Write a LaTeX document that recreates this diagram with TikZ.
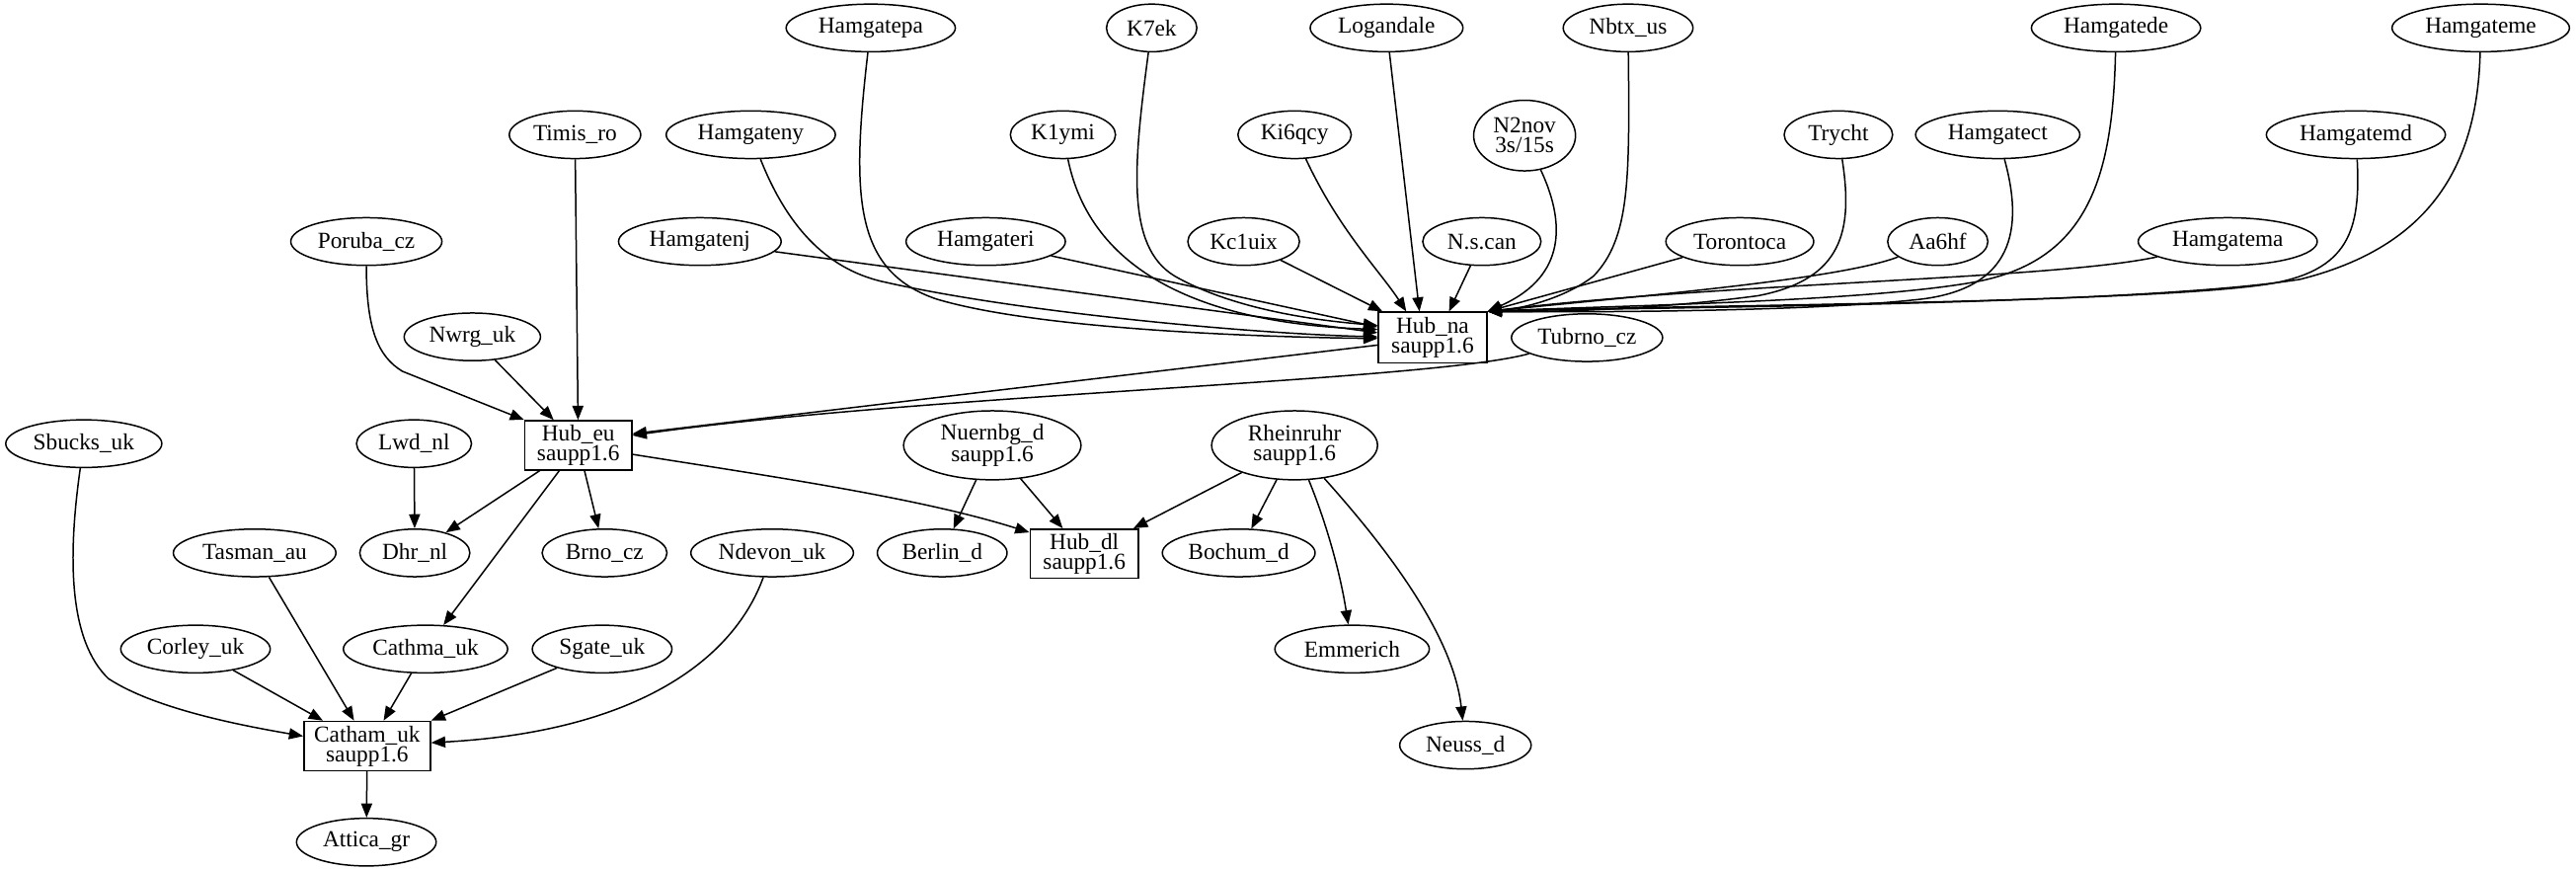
\documentclass[tikz,border=0pt]{standalone}
\usepackage{fontspec}
\setmainfont{Liberation Serif}
\usetikzlibrary{shapes.geometric,arrows.meta}
\begin{document}
\begin{tikzpicture}[x=1pt,y=-1pt,
  every node/.style={font=\fontsize{14pt}{12pt}\selectfont, line width=0.9pt, inner sep=0pt, align=center},
  el/.style={draw, ellipse, minimum height=29pt},
  el2/.style={draw, ellipse, minimum height=42pt},
  bx/.style={draw, rectangle, minimum height=30pt},
  e/.style={draw, line width=0.9pt, -{Triangle[length=8.6pt,width=6.7pt]}}]
\useasboundingbox (0,0) rectangle (1568,530);
% row 1
\node[el,minimum width=103pt] (hamgatepa) at (530,17) {Hamgatepa};
\node[el,minimum width=55pt] (k7ek) at (701,17) {K7ek};
\node[el,minimum width=93pt] (logandale) at (844,17) {Logandale};
\node[el,minimum width=79pt] (nbtxus) at (991,17) {Nbtx\_us};
\node[el,minimum width=103pt] (hamgatede) at (1288,17) {Hamgatede};
\node[el,minimum width=108pt] (hamgateme) at (1510,17) {Hamgateme};
% row 2
\node[el,minimum width=80pt] (timisro) at (350,82) {Timis\_ro};
\node[el,minimum width=103pt] (hamgateny) at (457,82) {Hamgateny};
\node[el,minimum width=64pt] (k1ymi) at (647,82) {K1ymi};
\node[el,minimum width=69pt] (ki6qcy) at (788,82) {Ki6qcy};
\node[el2,minimum width=62pt,minimum height=43pt] (n2nov) at (928,82.5) {N2nov\\3s/15s};
\node[el,minimum width=66pt] (trycht) at (1119,82) {Trycht};
\node[el,minimum width=100pt] (hamgatect) at (1216,82) {Hamgatect};
\node[el,minimum width=109pt] (hamgatemd) at (1434,82) {Hamgatemd};
% row 3
\node[el,minimum width=92pt] (porubacz) at (223,147) {Poruba\_cz};
\node[el,minimum width=99pt] (hamgatenj) at (426,147) {Hamgatenj};
\node[el,minimum width=97pt] (hamgateri) at (600,147) {Hamgateri};
\node[el,minimum width=68pt] (kc1uix) at (757,147) {Kc1uix};
\node[el,minimum width=72pt] (nscan) at (902,147) {N.s.can};
\node[el,minimum width=90pt] (torontoca) at (1059,147) {Torontoca};
\node[el,minimum width=61pt] (aa6hf) at (1179.5,147) {Aa6hf};
\node[el,minimum width=109pt] (hamgatema) at (1356,147) {Hamgatema};
% row 4
\node[bx,minimum width=66pt,minimum height=31pt] (hubna) at (872,205.5) {Hub\_na\\saupp1.6};
\node[el,minimum width=92pt] (tubrnocz) at (966,205.5) {Tubrno\_cz};
\node[el,minimum width=83pt] (nwrguk) at (287.5,205) {Nwrg\_uk};
% row 5
\node[bx,minimum width=65pt] (hubeu) at (352,271) {Hub\_eu\\saupp1.6};
\node[el,minimum width=95pt] (sbucksuk) at (51,270) {Sbucks\_uk};
\node[el,minimum width=70pt] (lwdnl) at (252,270) {Lwd\_nl};
\node[el2,minimum width=108pt] (nuernbgd) at (604,271) {Nuernbg\_d\\saupp1.6};
\node[el2,minimum width=101pt] (rheinruhr) at (788,271) {Rheinruhr\\saupp1.6};
% row 6
\node[el,minimum width=99pt] (tasmanau) at (155,336.5) {Tasman\_au};
\node[el,minimum width=67pt] (dhrnl) at (252.5,336.5) {Dhr\_nl};
\node[el,minimum width=76pt] (brnocz) at (368,336.5) {Brno\_cz};
\node[el,minimum width=99pt] (ndevonuk) at (470,336.5) {Ndevon\_uk};
\node[el,minimum width=79pt] (berlind) at (573.5,336.5) {Berlin\_d};
\node[bx,minimum width=66pt] (hubdl) at (660,337) {Hub\_dl\\saupp1.6};
\node[el,minimum width=93pt] (bochumd) at (754,336.5) {Bochum\_d};
% row 7
\node[el,minimum width=91pt] (corleyuk) at (119,395) {Corley\_uk};
\node[el,minimum width=100pt] (cathmauk) at (259,395) {Cathma\_uk};
\node[el,minimum width=85pt] (sgateuk) at (366.5,395) {Sgate\_uk};
\node[el,minimum width=94pt] (emmerich) at (823,395) {Emmerich};
% rows 8-9
\node[bx,minimum width=77pt] (catham) at (223.5,454) {Catham\_uk\\saupp1.6};
\node[el,minimum width=80pt] (neussd) at (892,453.5) {Neuss\_d};
\node[el,minimum width=85pt] (atticagr) at (223,512.5) {Attica\_gr};

% edges into Hub_na, left side
\draw[e] (hamgatepa) .. controls (518,120) and (520,165) .. (570,182) .. controls (630,200) and (760,205) .. ([yshift=-0.5pt]hubna.west);
\draw[e] (hamgateny) .. controls (480,140) and (505,165) .. (540,172) .. controls (620,190) and (760,203) .. ([yshift=0.5pt]hubna.west);
\draw[e] (hamgatenj) -- ([yshift=3pt]hubna.west);
\draw[e] (hamgateri) -- ([yshift=6.5pt]hubna.west);
\draw[e] (k1ymi) .. controls (665,170) and (740,197) .. ([yshift=5pt]hubna.west);
\draw[e] (k7ek) .. controls (690,100) and (685,150) .. (715,168) .. controls (750,188) and (800,195) .. ([yshift=7.5pt]hubna.west);
% top
\draw[e] (kc1uix) -- ([xshift=3pt]hubna.north west);
\draw[e] (ki6qcy) .. controls (815,140) and (840,165) .. ([xshift=-16pt]hubna.north);
\draw[e] (logandale) -- ([xshift=-8pt]hubna.north);
\draw[e] (nscan) -- ([xshift=10pt]hubna.north);
% right side
\draw[e] (n2nov) .. controls (955,140) and (950,170) .. (hubna.north east);
\draw[e] (nbtxus) .. controls (992,110) and (992,145) .. (970,168) .. controls (952,182) and (925,188) .. (hubna.north east);
\draw[e] (torontoca) -- (hubna.north east);
\draw[e] (trycht) .. controls (1128,140) and (1122,170) .. (1070,180) .. controls (1010,188) and (950,190) .. (hubna.north east);
\draw[e] (aa6hf) .. controls (1120,170) and (1000,180) .. (hubna.north east);
\draw[e] (hamgatect) .. controls (1232,140) and (1225,175) .. (1170,182) .. controls (1100,190) and (960,190) .. (hubna.north east);
\draw[e] (hamgatede) .. controls (1286,110) and (1270,160) .. (1200,172) .. controls (1130,184) and (980,186) .. (hubna.north east);
\draw[e] (hamgatema) .. controls (1250,170) and (1050,172) .. (hubna.north east);
\draw[e] (hamgatemd) .. controls (1437,140) and (1430,165) .. (1380,173) .. controls (1300,185) and (1000,186) .. (hubna.north east);
\draw[e] (hamgateme) .. controls (1508,100) and (1480,150) .. (1400,170) .. controls (1300,186) and (1000,187) .. (hubna.north east);

% into Hub_eu
\draw[e] ([yshift=-4.5pt]hubna.west) -- ([yshift=7pt]hubeu.east);
\draw[e] (tubrnocz) .. controls (870,232) and (560,240) .. ([yshift=6pt]hubeu.east);
\draw[e] (timisro) -- (hubeu);
\draw[e] (porubacz) .. controls (223,200) and (230,217) .. (245,226) -- (hubeu.north west);
\draw[e] (nwrguk) -- ([xshift=-15pt]hubeu.north);

% from Hub_eu
\draw[e] (lwdnl) -- (dhrnl);
\draw[e] (hubeu) -- (dhrnl);
\draw[e] (hubeu) -- (cathmauk);
\draw[e] (hubeu) -- (brnocz);
\draw[e] ([yshift=-5.5pt]hubeu.east) .. controls (470,290) and (560,303) .. ([yshift=13pt]hubdl.west);

% German cluster
\draw[e] (nuernbgd) -- (berlind);
\draw[e] (nuernbgd) -- (hubdl);
\draw[e] (rheinruhr) -- (hubdl);
\draw[e] (rheinruhr) -- (bochumd);
\draw[e] (rheinruhr) .. controls (808,320) and (816,350) .. (emmerich);
\draw[e] (rheinruhr) .. controls (850,340) and (885,390) .. (neussd);

% into Catham_uk
\draw[e] (sbucksuk) .. controls (41,340) and (42,390) .. (66,413) .. controls (95,432) and (150,442) .. ([yshift=6pt]catham.west);
\draw[e] (tasmanau) -- ([xshift=-8pt]catham.north);
\draw[e] (corleyuk) -- ([xshift=12pt]catham.north west);
\draw[e] (cathmauk) -- ([xshift=10pt]catham.north);
\draw[e] (sgateuk) -- (catham.north east);
\draw[e] (ndevonuk) .. controls (447,400) and (390,445) .. ([yshift=2pt]catham.east);
\draw[e] (catham) -- (atticagr);
\end{tikzpicture}
\end{document}
